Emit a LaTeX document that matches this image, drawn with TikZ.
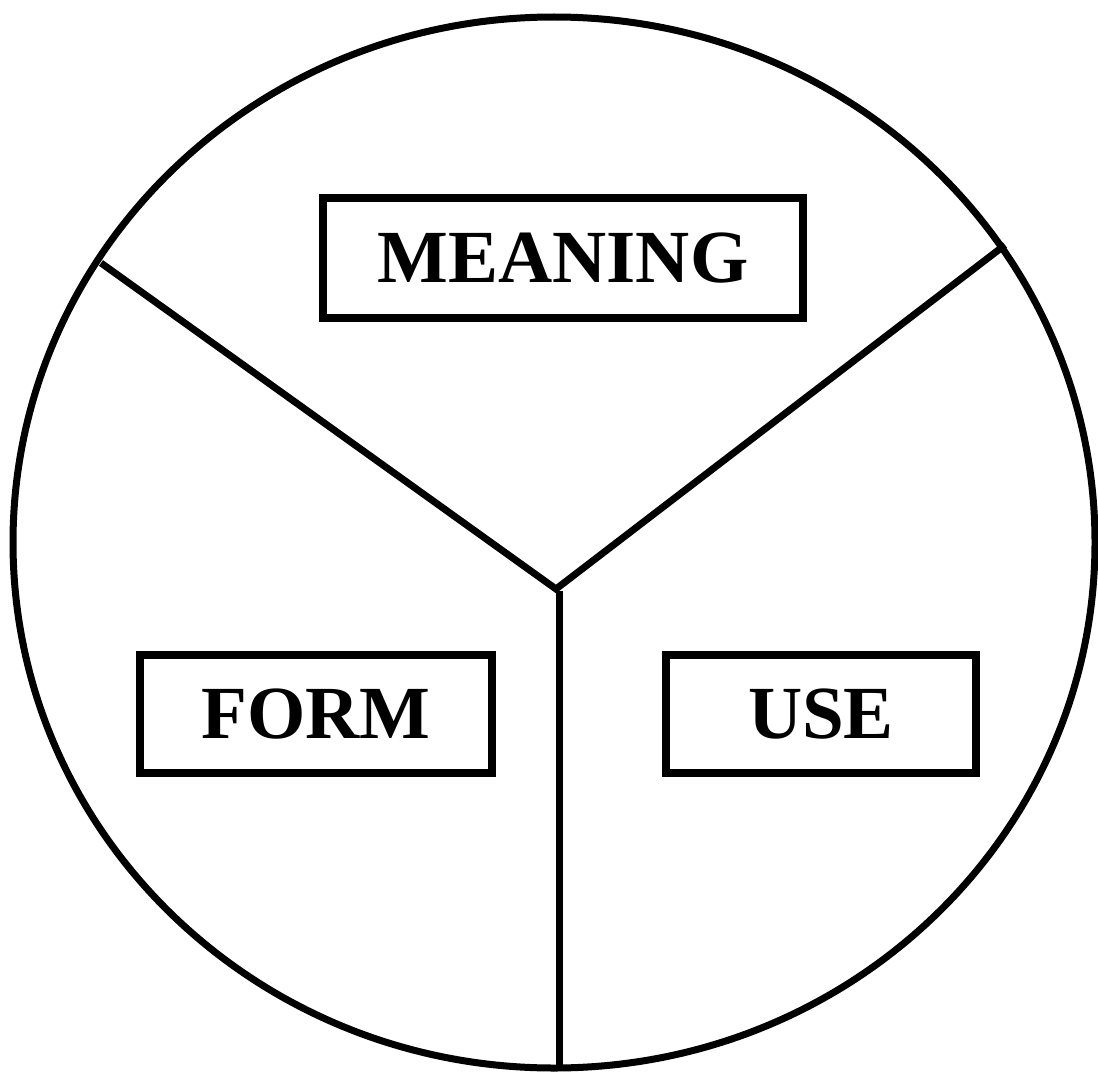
\documentclass[tikz,border=0pt]{standalone}
\usepackage{fontspec}
\setmainfont{Liberation Serif}
\begin{document}
\begin{tikzpicture}[x=1pt,y=-1pt,
  rim/.style={line width=7pt},
  divider/.style={line width=7pt},
  labelbox/.style={draw, line width=8pt, inner sep=0pt,
    font=\fontsize{75}{90}\selectfont\bfseries}]
\useasboundingbox (0,0) rectangle (1098,1073);
\draw[rim] (554,542.5) ellipse [x radius=541, y radius=525.5];
\coordinate (lefttop) at (101,263);
\coordinate (righttop) at (1005,245);
\coordinate (hub) at (556,589);
\coordinate (vtop) at (559,591);
\coordinate (bottom) at (559,1069);
\draw[divider] (lefttop) -- (hub) -- (righttop);
\draw[divider] (vtop) -- (bottom);
\node[labelbox, minimum width=480pt, minimum height=120pt] (meaning) at (563,258) {MEANING};
\node[labelbox, minimum width=352.5pt, minimum height=118.5pt] (form) at (316,714) {FORM};
\node[labelbox, minimum width=310pt, minimum height=118.5pt] (use) at (821,714) {USE};
\end{tikzpicture}
\end{document}
